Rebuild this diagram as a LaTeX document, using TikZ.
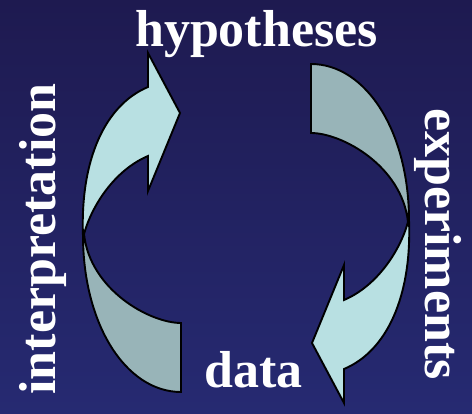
\documentclass[tikz,border=0pt]{standalone}
\usepackage{fontspec}
\setmainfont{Liberation Serif}
\definecolor{bgtop}{HTML}{1E1A50}
\definecolor{bgbot}{HTML}{262A72}
\definecolor{arrlight}{HTML}{B8E0E2}
\definecolor{arrdark}{HTML}{98B4B8}
\tikzset{
  lbl/.style={text=white, font=\fontsize{52}{52}\selectfont\bfseries, inner sep=0pt, anchor=base},
  front/.style={fill=arrlight, draw=black, line width=1.9pt, line join=miter},
  back/.style={fill=arrdark, draw=black, line width=1.9pt, line join=miter}
}
\begin{document}
\begin{tikzpicture}[x=1pt,y=-1pt]
\shade[top color=bgtop, bottom color=bgbot] (0,0) rectangle (472,414);
\useasboundingbox (0,0) rectangle (472,414);
% left arrow (tail at bottom, head pointing right at top)
\begin{scope}
  \path[back] (83,232) .. controls (82,324) and (126,392) .. (181,392) -- (181,323)
     .. controls (150,323) and (90,290) .. (84,234) -- cycle;
  \path[front] (83,236) .. controls (80,160) and (105,105) .. (148,87)
     -- (148,53) -- (180,113) -- (148,191) -- (148,156)
     .. controls (115,170) and (92,205) .. (84,234) -- cycle;
\end{scope}
% right arrow: same shape turned half a turn
\begin{scope}[rotate around={180:(246,228)}]
  \path[back] (83,232) .. controls (82,324) and (126,392) .. (181,392) -- (181,323)
     .. controls (150,323) and (90,290) .. (84,234) -- cycle;
  \path[front] (83,236) .. controls (80,160) and (105,105) .. (148,87)
     -- (148,53) -- (180,113) -- (148,191) -- (148,156)
     .. controls (115,170) and (92,205) .. (84,234) -- cycle;
\end{scope}
\node[lbl] (hyp) at (256.5,47) {hypotheses};
\node[lbl] (dat) at (253.5,388) {data};
\node[lbl, rotate=90] (int) at (55,239) {interpretation};
\node[lbl, rotate=-90] (exp) at (425,244) {experiments};
\end{tikzpicture}
\end{document}
